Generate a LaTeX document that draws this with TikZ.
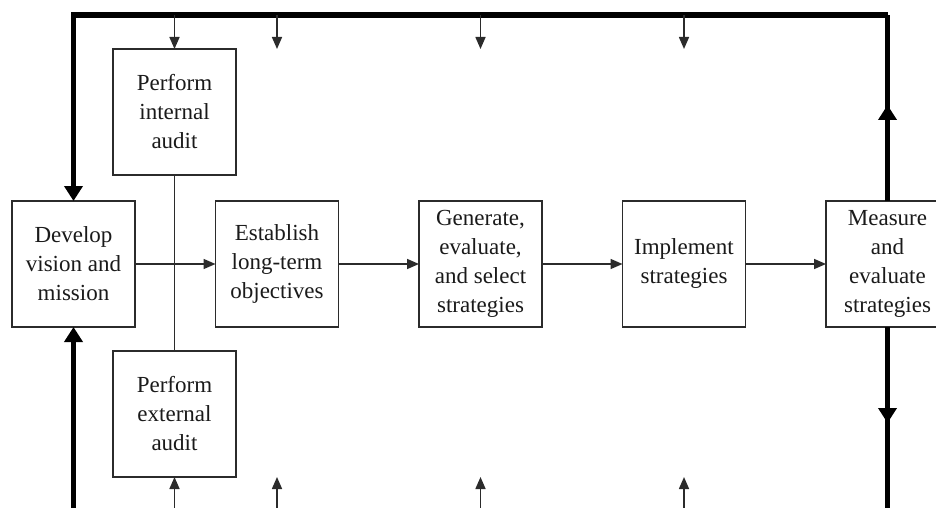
\documentclass[tikz,border=0pt]{standalone}
\usepackage{fontspec}
\setmainfont{Liberation Serif}
\usetikzlibrary{arrows.meta, positioning, decorations.markings}
\definecolor{BoxLine}{HTML}{2B2B2B}
\definecolor{TextDark}{HTML}{1A1A1A}

\begin{document}
\begin{tikzpicture}[
  x=1pt, y=-1pt,
  node distance=80.5pt and 80.5pt,
  box/.style={rectangle, draw=BoxLine, line width=1.7pt, fill=white, outer sep=0pt,
              minimum width=123pt, minimum height=126pt, inner sep=2pt,
              align=center, font=\fontsize{23}{29}\selectfont, text=TextDark},
  arrow/.style={-{Triangle[length=12pt, width=10pt]}, line width=1.6pt, BoxLine},
  link/.style={line width=1.6pt, BoxLine},
  bigline/.style={line width=5.5pt, black, line join=miter},
  bigtip/.style={-{Triangle[length=15pt, width=18pt]}},
  midtip/.style={postaction={decorate}, decoration={markings,
                 mark=at position 96pt with {\arrow{Triangle[length=15pt, width=18pt]}}}}
]
  \useasboundingbox (0,0) rectangle (936,508);
  \coordinate (top) at (0,15);
  \coordinate (bot) at (0,522);

  \node[box] (develop) at (73.5,264) {Develop\\vision and\\mission};
  \node[box, right=of develop] (establish) {Establish\\long-term\\objectives};
  \node[box, right=of establish] (generate) {Generate,\\evaluate,\\and select\\strategies};
  \node[box, right=of generate] (implement) {Implement\\strategies};
  \node[box, right=of implement] (measure) {Measure\\and\\evaluate\\strategies};
  \node[box] (internal) at (174.5,112) {Perform\\internal\\audit};
  \node[box] (external) at (174.5,414) {Perform\\external\\audit};

  % feedback loop
  \draw[bigline, midtip] (measure.north) -- (measure.north |- top);
  \draw[bigline, bigtip] (measure.north |- top) -- (develop.north |- top) -- (develop.north);
  \draw[bigline, bigtip] (develop.south |- bot) -- (develop.south);
  \draw[bigline, midtip] (measure.south) -- (measure.south |- bot);

  \draw[arrow] (internal.north |- top) -- (internal.north);
  \draw[arrow] (external.south |- bot) -- (external.south);
  \foreach \n in {establish, generate, implement} {
    \draw[arrow] (\n.north |- top) -- (\n.north |- internal.north);
    \draw[arrow] (\n.south |- bot) -- (\n.south |- external.south);
  }

  \draw[link] (internal) -- (external);
  \draw[arrow] (develop) -- (establish);
  \draw[arrow] (establish) -- (generate);
  \draw[arrow] (generate) -- (implement);
  \draw[arrow] (implement) -- (measure);
\end{tikzpicture}
\end{document}
